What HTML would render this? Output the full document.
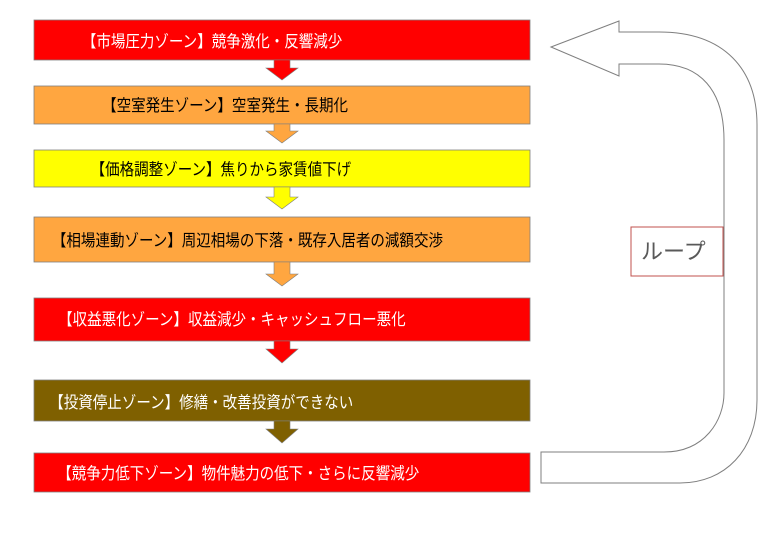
<!DOCTYPE html>
<html><head><meta charset="utf-8"><style>
html,body{margin:0;padding:0;background:#fff;}
svg{display:block;}
text{font-family:"Liberation Sans","Noto Sans CJK JP",sans-serif;font-size:16.5px;}
</style></head><body>
<svg width="771" height="540" viewBox="0 0 771 540" xmlns="http://www.w3.org/2000/svg">
<g stroke="#7f7f7f" stroke-width="0.8">
<rect x="34" y="20" width="496" height="40" fill="#ff0000"/>
<rect x="34" y="86" width="496" height="38" fill="#ffa640"/>
<rect x="34" y="150" width="496" height="37" fill="#ffff00"/>
<rect x="34" y="217" width="496" height="45" fill="#ffa640"/>
<rect x="34" y="298" width="496" height="43" fill="#ff0000"/>
<rect x="34" y="380" width="496" height="41" fill="#7f6000"/>
<rect x="34" y="453" width="496" height="39" fill="#ff0000"/>
</g>
<g stroke="#7f7f7f" stroke-width="0.6">
<polygon points="274,60 290,60 290,68 298,68 282,80 266,68 274,68" fill="#ff0000"/>
<polygon points="274,124 290,124 290,131 298,131 282,143 266,131 274,131" fill="#ffa640"/>
<polygon points="274,187 290,187 290,197 298,197 282,209 266,197 274,197" fill="#ffff00"/>
<polygon points="274,262 290,262 290,274 298,274 282,286 266,274 274,274" fill="#ffa640"/>
<polygon points="274,341 290,341 290,349 298,349 282,363 266,349 274,349" fill="#ff0000"/>
<polygon points="274,421 290,421 290,429 298,429 282,443 266,429 274,429" fill="#7f6000"/>
</g>
<path d="M551,47 L619,21 L619,32 L659,32 C725,32 757,70 757,125 L757,400 C757,450 725,483 680,483 L541,483 L541,452 L664,452 C705,452 724,420 724,393 L724,140 C724,90 700,64 659,64 L619,64 L619,76 Z" fill="#fff" stroke="#7f7f7f" stroke-width="1"/>
<rect x="631" y="227" width="92" height="49" fill="#fff" stroke="#c0504d" stroke-width="1"/>
<text x="641" y="259" style="font-size:22px" fill="#595959">ループ</text>
<g transform="scale(0.88,1)">
<text x="93" y="47" fill="#fff">【市場圧力ゾーン】競争激化・反響減少</text>
<text x="116" y="111" fill="#000">【空室発生ゾーン】空室発生・長期化</text>
<text x="103" y="175" fill="#000">【価格調整ゾーン】焦りから家賃値下げ</text>
<text x="59" y="246" fill="#000">【相場連動ゾーン】周辺相場の下落・既存入居者の減額交渉</text>
<text x="66" y="325" fill="#fff">【収益悪化ゾーン】収益減少・キャッシュフロー悪化</text>
<text x="56" y="408" fill="#fff">【投資停止ゾーン】修繕・改善投資ができない</text>
<text x="65" y="479" fill="#fff">【競争力低下ゾーン】物件魅力の低下・さらに反響減少</text>
</g>
</svg>
</body></html>
